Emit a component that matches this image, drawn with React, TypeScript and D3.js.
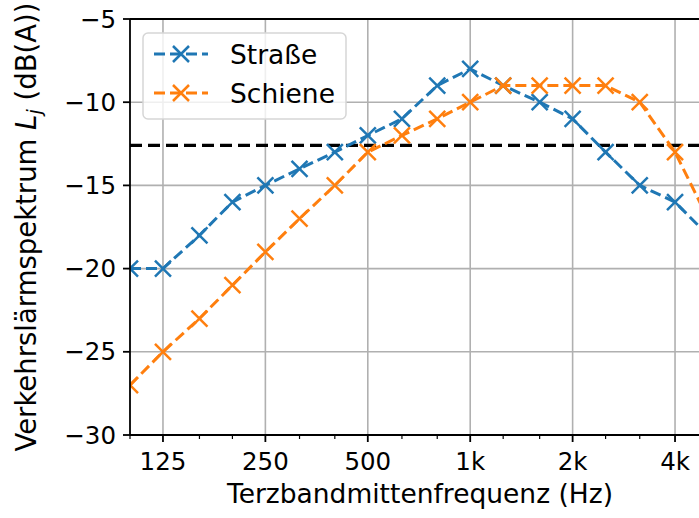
import React from 'react'
import * as d3 from 'd3'

// Terzband centre frequencies (Hz)
const freqs = [100, 125, 160, 200, 250, 315, 400, 500, 630, 800, 1000, 1250, 1600, 2000, 2500, 3150, 4000, 5000]
const strasse = [-20, -20, -18, -16, -15, -14, -13, -12, -11, -9, -8, -9, -10, -11, -13, -15, -16, -18]
const schiene = [-27, -25, -23, -21, -19, -17, -15, -13, -12, -11, -10, -9, -9, -9, -9, -10, -13, -17]
const refLevel = -12.6

const majorTicks = [125, 250, 500, 1000, 2000, 4000]
const majorLabels = ['125', '250', '500', '1k', '2k', '4k']
const yTicks = [-30, -25, -20, -15, -10, -5]

const series = [
	{ name: 'Straße', values: strasse, color: '#1f77b4' },
	{ name: 'Schiene', values: schiene, color: '#ff7f0e' },
]

const width = 699
const height = 518
const m = { left: 130, top: 19, right: 708, bottom: 435 }
const font = 'DejaVu Sans, sans-serif'

const Cross = ({ x, y, color }: { x: number; y: number; color: string }) => {
	const s = 8
	return (
		<path
			d={`M${x - s},${y - s}L${x + s},${y + s}M${x - s},${y + s}L${x + s},${y - s}`}
			stroke={color}
			strokeWidth={2.5}
			fill="none"
		/>
	)
}

export default function App() {
	const x = d3.scaleLog().domain([100, 5000]).range([m.left, m.right])
	const y = d3.scaleLinear().domain([-30, -5]).range([m.bottom, m.top])

	const line = d3
		.line<number>()
		.x((d, i) => x(freqs[i]))
		.y(d => y(d))

	const minorTicks = freqs.filter(f => !majorTicks.includes(f))

	return (
		<svg
			width={width}
			height={height}
			style={{ position: 'fixed', left: 0, top: 0, background: '#fff' }}
			fontFamily={font}
		>
			<defs>
				<clipPath id="plot">
					<rect x={m.left} y={m.top} width={m.right - m.left} height={m.bottom - m.top} />
				</clipPath>
			</defs>
			{/* grid */}
			{majorTicks.map(t => (
				<line key={'gx' + t} x1={x(t)} x2={x(t)} y1={m.top} y2={m.bottom} stroke="#b0b0b0" strokeWidth={1.6} />
			))}
			{yTicks.map(t => (
				<line key={'gy' + t} x1={m.left} x2={m.right} y1={y(t)} y2={y(t)} stroke="#b0b0b0" strokeWidth={1.6} />
			))}

			<g clipPath="url(#plot)">
				<line
					x1={m.left}
					x2={m.right}
					y1={y(refLevel)}
					y2={y(refLevel)}
					stroke="#000"
					strokeWidth={3.2}
					strokeDasharray="12,6"
				/>
				{series.map(s => (
					<g key={s.name}>
						<path d={line(s.values) || ''} fill="none" stroke={s.color} strokeWidth={3} strokeDasharray="11,5" />
						{s.values.map((v, i) => (
							<Cross key={i} x={x(freqs[i])} y={y(v)} color={s.color} />
						))}
					</g>
				))}
			</g>

			{/* spines */}
			<line x1={m.left} x2={m.left} y1={m.top} y2={m.bottom} stroke="#000" strokeWidth={1.8} />
			<line x1={m.left} x2={m.right} y1={m.bottom} y2={m.bottom} stroke="#000" strokeWidth={1.8} />
			<line x1={m.left} x2={m.right} y1={m.top} y2={m.top} stroke="#000" strokeWidth={1.8} />

			{/* x ticks */}
			{majorTicks.map((t, i) => (
				<g key={'xt' + t}>
					<line x1={x(t)} x2={x(t)} y1={m.bottom} y2={m.bottom + 7} stroke="#000" strokeWidth={1.8} />
					<text x={x(t)} y={m.bottom + 35} fontSize={24.5} textAnchor="middle" fill="#000">
						{majorLabels[i]}
					</text>
				</g>
			))}
			{minorTicks.map(t => (
				<line key={'mt' + t} x1={x(t)} x2={x(t)} y1={m.bottom} y2={m.bottom + 4} stroke="#000" strokeWidth={1.2} />
			))}

			{/* y ticks */}
			{yTicks.map(t => (
				<g key={'yt' + t}>
					<line x1={m.left - 7} x2={m.left} y1={y(t)} y2={y(t)} stroke="#000" strokeWidth={1.8} />
					<text x={m.left - 14} y={y(t)} dy="0.35em" fontSize={24.5} textAnchor="end" fill="#000">
						{'\u2212' + Math.abs(t)}
					</text>
				</g>
			))}

			{/* axis labels */}
			<text x={420} y={503} fontSize={26.5} textAnchor="middle" fill="#000">
				Terzbandmittenfrequenz (Hz)
			</text>
			<text
				transform={`translate(36,${(m.top + m.bottom) / 2}) rotate(-90)`}
				fontSize={27.5}
				textAnchor="middle"
				fill="#000"
			>
				Verkehrslärmspektrum <tspan fontStyle="italic">L</tspan>
				<tspan fontStyle="italic" fontSize={19} dy={5}>j</tspan>
				<tspan dy={-5}> (dB(A))</tspan>
			</text>

			{/* legend */}
			<rect x={143} y={33} width={203} height={86} rx={5} fill="#fff" fillOpacity={0.8} stroke="#d6d6d6" strokeWidth={1.5} />
			{series.map((s, i) => {
				const ly = 54 + i * 39
				return (
					<g key={'lg' + s.name}>
						<line x1={154} x2={208} y1={ly} y2={ly} stroke={s.color} strokeWidth={3} strokeDasharray="11,5" />
						<Cross x={181} y={ly} color={s.color} />
						<text x={230} y={ly} dy="0.36em" fontSize={26.5} fill="#000">
							{s.name}
						</text>
					</g>
				)
			})}
		</svg>
	)
}
